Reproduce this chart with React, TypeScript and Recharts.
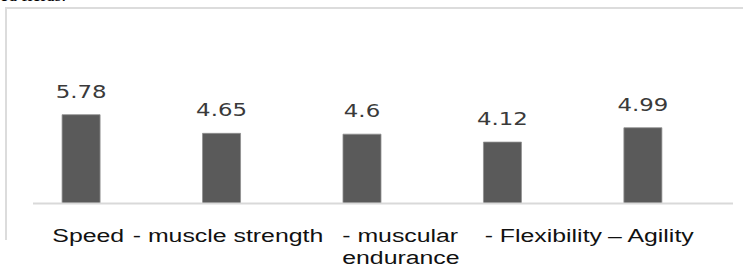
import { BarChart, Bar, XAxis, YAxis, LabelList } from 'recharts';

const categories = ['Speed', 'muscle strength', 'muscular endurance', 'Flexibility', 'Agility'];
const values = [5.78, 4.65, 4.6, 4.12, 4.99];
const tickLines = [['Speed'], ['- muscle strength'], ['- muscular', 'endurance'], ['- Flexibility'], ['\u2013 Agility']];

const data = categories.map((name, i) => ({ idx: i, name, value: values[i] }));

// where each label starts, relative to its bar centre
const LABEL_DX = [-29, -89, -20, -18, -35];
const STRETCH = 1.38;

function CategoryTick({ x, y, payload }: any) {
  const i = payload.value as number;
  const lines = tickLines[i] || [];
  return (
    <g transform={`translate(${x + LABEL_DX[i]},${y})`}>
      {lines.map((t, k) => (
        <text
          key={k}
          x={0}
          y={0}
          transform={`translate(0,${30 + k * 22}) scale(${STRETCH},1)`}
          fontFamily="'Liberation Sans', Arial, sans-serif"
          fontSize={18}
          fill="#111"
        >
          {t}
        </text>
      ))}
    </g>
  );
}

function ValueLabel({ x, y, width, value }: any) {
  const cx = x + width / 2;
  return (
    <text
      transform={`translate(${cx},${y - 17}) scale(1.27,1)`}
      textAnchor="middle"
      fontFamily="'DejaVu Sans', Verdana, sans-serif"
      fontSize={18}
      fill="#3a3a3a"
    >
      {value}
    </text>
  );
}

export default function App() {
  return (
    <div style={{ position: 'absolute', left: 0, top: 0, width: 743, height: 269, overflow: 'hidden', background: '#fff' }}>
      <div
        style={{
          position: 'absolute', left: 0, top: -15, fontFamily: "'Liberation Serif', serif",
          fontSize: 18, color: '#000', whiteSpace: 'nowrap',
        }}
      >
        ed fields.
      </div>
      <div
        style={{
          position: 'absolute', left: 5, top: 7, width: 740, height: 231,
          borderTop: '2px solid #dcdcdc', borderLeft: '2px solid #dcdcdc',
        }}
      />
      <div style={{ position: 'absolute', left: 0, top: 0 }}>
        <BarChart width={743} height={269} data={data} margin={{ top: 12, right: 10, bottom: 35.5, left: 33 }}>
          <YAxis hide domain={[0.4, 12]} allowDataOverflow />
          <XAxis
            dataKey="idx"
            type="number"
            domain={[-0.344, 4.64]}
            allowDataOverflow
            ticks={[0, 1, 2, 3, 4]}
            interval={0}
            height={30}
            tickLine={false}
            axisLine={{ stroke: '#d9d9d9', strokeWidth: 2 }}
            tick={<CategoryTick />}
          />
          <Bar dataKey="value" barSize={38} fill="#5a5a5a" stroke="#8f8f8f" strokeWidth={0.8} isAnimationActive={false}>
            <LabelList dataKey="value" content={<ValueLabel />} />
          </Bar>
        </BarChart>
      </div>
    </div>
  );
}
